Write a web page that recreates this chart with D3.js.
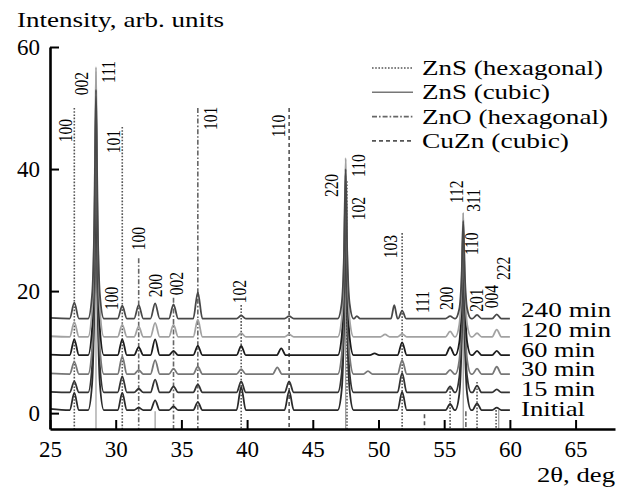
<!DOCTYPE html>
<html>
<head>
<meta charset="utf-8">
<script src="https://cdn.jsdelivr.net/npm/d3@7"></script>
<style>
  body { margin: 0; background: #fff; }
  svg { display: block; }
  text { font-family: "Liberation Serif", "Times New Roman", serif; fill: #000; }
</style>
</head>
<body>
<svg id="chart" width="622" height="491"></svg>
<script>
// tick labels
const thetaTicks = [25, 30, 35, 40, 45, 50, 55, 60, 65];
const intensityTicks = [0, 20, 40, 60];

// scans, bottom to top, with their vertical offsets
const scanLabels = ["Initial", "15 min", "30 min", "60 min", "120 min", "240 min"];
const scanOffsets = [0.5, 3.4, 6.4, 9.5, 12.5, 15.5];

// [2theta, intensity above the scan's own baseline]
const scanInitial = [
  [25, 0.2], [26.5, 0], [26.85, 2.8], [27.2, 0],
  [27.9, 0], [28.2, 4.2], [28.38, 18.7], [28.5, 41.5], [28.62, 18.7], [28.8, 4.2], [29.1, 0],
  [30.15, 0], [30.5, 2.8], [30.85, 0],
  [31.4, 0], [31.75, 0.4], [32.1, 0],
  [32.65, 0], [33, 1.6], [33.35, 0],
  [34.05, 0], [34.4, 0.6], [34.75, 0],
  [35.9, 0], [36.25, 1.3], [36.6, 0],
  [39.2, 0], [39.55, 3.8], [39.9, 0],
  [42.85, 0], [43.2, 3.2], [43.55, 0],
  [46.9, 0], [47.2, 3.3], [47.38, 14.6], [47.5, 32.5], [47.62, 14.6], [47.8, 3.3], [48.1, 0],
  [51.45, 0], [51.8, 3.0], [52.15, 0],
  [55.1, 0], [55.45, 1.0], [55.8, 0],
  [55.85, 0], [56.15, 2.6], [56.33, 11.5], [56.45, 25.5], [56.57, 11.5], [56.75, 2.6], [57.05, 0],
  [57.15, 0], [57.5, 1.1], [57.85, 0],
  [58.65, 0], [59, 0.4], [59.35, 0], [60, 0]
];
const scan15 = [
  [25, 0.1], [26.5, 0], [26.85, 1.8], [27.2, 0],
  [27.9, 0], [28.2, 4.2], [28.38, 18.7], [28.5, 41.6], [28.62, 18.7], [28.8, 4.2], [29.1, 0],
  [30.15, 0], [30.5, 2.6], [30.85, 0],
  [31.4, 0], [31.75, 0.6], [32.1, 0],
  [32.65, 0], [33, 2.1], [33.35, 0],
  [34.05, 0], [34.4, 1.0], [34.75, 0],
  [35.9, 0], [36.25, 1.3], [36.6, 0],
  [39.2, 0], [39.55, 1.8], [39.9, 0],
  [42.85, 0], [43.2, 1.8], [43.55, 0],
  [46.9, 0], [47.2, 3.2], [47.38, 14.2], [47.5, 31.6], [47.62, 14.2], [47.8, 3.2], [48.1, 0],
  [51.45, 0], [51.8, 3.2], [52.15, 0],
  [55.1, 0], [55.45, 1.0], [55.8, 0],
  [55.85, 0], [56.15, 2.5], [56.33, 11.1], [56.45, 24.6], [56.57, 11.1], [56.75, 2.5], [57.05, 0],
  [57.15, 0], [57.5, 1.1], [57.85, 0],
  [58.65, 0], [59, 0.5], [59.35, 0], [60, 0]
];
const scan30 = [
  [25, 0.1], [26.5, 0], [26.85, 2.0], [27.2, 0],
  [27.9, 0], [28.2, 4.1], [28.38, 18.3], [28.5, 40.6], [28.62, 18.3], [28.8, 4.1], [29.1, 0],
  [30.15, 0], [30.5, 2.9], [30.85, 0],
  [31.4, 0], [31.75, 0.7], [32.1, 0],
  [32.65, 0], [33, 2.3], [33.35, 0],
  [34.05, 0], [34.4, 0.9], [34.75, 0],
  [35.9, 0], [36.25, 1.2], [36.6, 0],
  [39.2, 0], [39.55, 0.8], [39.9, 0],
  [41.95, 0], [42.3, 1.1], [42.65, 0],
  [46.9, 0], [47.2, 3.1], [47.38, 13.8], [47.5, 30.6], [47.62, 13.8], [47.8, 3.1], [48.1, 0],
  [48.85, 0], [49.2, 0.5], [49.55, 0],
  [51.45, 0], [51.8, 2.3], [52.15, 0],
  [55.1, 0], [55.45, 0.7], [55.8, 0],
  [55.85, 0], [56.15, 2.3], [56.33, 10.2], [56.45, 22.6], [56.57, 10.2], [56.75, 2.3], [57.05, 0],
  [57.15, 0], [57.5, 0.9], [57.85, 0],
  [58.65, 0], [59, 1.2], [59.35, 0], [60, 0]
];
const scan60 = [
  [25, 0.1], [26.5, 0], [26.85, 2.6], [27.2, 0],
  [27.9, 0], [28.2, 4.2], [28.38, 18.7], [28.5, 41.5], [28.62, 18.7], [28.8, 4.2], [29.1, 0],
  [30.15, 0], [30.5, 2.6], [30.85, 0],
  [31.4, 0], [31.75, 1.3], [32.1, 0],
  [32.65, 0], [33, 2.6], [33.35, 0],
  [34.05, 0], [34.4, 0.7], [34.75, 0],
  [35.9, 0], [36.25, 1.5], [36.6, 0],
  [39.2, 0], [39.55, 1.5], [39.9, 0],
  [42.25, 0], [42.6, 1.1], [42.95, 0],
  [46.9, 0], [47.2, 3.0], [47.38, 13.3], [47.5, 29.5], [47.62, 13.3], [47.8, 3.0], [48.1, 0],
  [49.35, 0], [49.7, 0.3], [50.05, 0],
  [51.45, 0], [51.8, 2.1], [52.15, 0],
  [55.1, 0], [55.45, 1.3], [55.8, 0],
  [55.85, 0], [56.15, 2.1], [56.33, 9.5], [56.45, 21.0], [56.57, 9.5], [56.75, 2.1], [57.05, 0],
  [57.15, 0], [57.5, 0.7], [57.85, 0],
  [58.65, 0], [59, 0.7], [59.35, 0], [60, 0]
];
const scan120 = [
  [25, 0.1], [26.5, 0], [26.85, 2.4], [27.2, 0],
  [27.9, 0], [28.2, 4.4], [28.38, 19.9], [28.5, 44.2], [28.62, 19.9], [28.8, 4.4], [29.1, 0],
  [30.15, 0], [30.5, 2.0], [30.85, 0],
  [31.4, 0], [31.75, 1.7], [32.1, 0],
  [32.65, 0], [33, 2.3], [33.35, 0],
  [34.05, 0], [34.4, 2.0], [34.75, 0],
  [35.9, 0], [36.25, 2.8], [36.6, 0],
  [39.2, 0], [39.55, 0.6], [39.9, 0],
  [42.85, 0], [43.2, 0.4], [43.55, 0],
  [46.9, 0], [47.2, 2.9], [47.38, 13.2], [47.5, 29.3], [47.62, 13.2], [47.8, 2.9], [48.1, 0],
  [50.15, 0], [50.5, 0.4], [50.85, 0],
  [51.45, 0], [51.8, 0.5], [52.15, 0],
  [55.1, 0], [55.45, 0.9], [55.8, 0],
  [55.85, 0], [56.15, 2.0], [56.33, 9.1], [56.45, 20.3], [56.57, 9.1], [56.75, 2.0], [57.05, 0],
  [57.15, 0], [57.5, 0.6], [57.85, 0],
  [58.65, 0], [59, 1.2], [59.35, 0], [60, 0]
];
const scan240 = [
  [25, 0.1], [26.5, 0], [26.85, 2.6], [27.2, 0],
  [27.9, 0], [28.2, 3.8], [28.38, 16.9], [28.5, 37.5], [28.62, 16.9], [28.8, 3.8], [29.1, 0],
  [30.15, 0], [30.5, 2.1], [30.85, 0],
  [31.4, 0], [31.75, 2.2], [32.1, 0],
  [32.65, 0], [33, 2.5], [33.35, 0],
  [34.05, 0], [34.4, 2.3], [34.75, 0],
  [35.9, 0], [36.25, 4.3], [36.6, 0],
  [39.2, 0], [39.55, 0.5], [39.9, 0],
  [42.85, 0], [43.2, 0.4], [43.55, 0],
  [46.9, 0], [47.2, 2.5], [47.38, 11.0], [47.5, 24.5], [47.62, 11.0], [47.8, 2.5], [48.1, 0],
  [48.15, 0], [48.35, 0.4], [48.6, 0],
  [50.95, 0], [51.2, 2.2], [51.45, 0],
  [51.5, 0], [51.8, 1.3], [52.1, 0],
  [55.1, 0], [55.45, 0.4], [55.8, 0],
  [55.85, 0], [56.15, 1.6], [56.33, 7.2], [56.45, 16.0], [56.57, 7.2], [56.75, 1.6], [57.05, 0],
  [57.15, 0], [57.5, 0.6], [57.85, 0],
  [58.65, 0], [59, 0.7], [59.35, 0], [60, 0]
];
const scans = [scanInitial, scan15, scan30, scan60, scan120, scan240];

// phases and their reference lines: [2theta, phase index, top of line]
const phaseNames = ["ZnS (hexagonal)", "ZnS (cubic)", "ZnO (hexagonal)", "CuZn (cubic)"];
const refLines = [
  [26.85, 0, 50.0], [30.5, 0, 46.9], [39.55, 0, 17.7], [47.6, 0, 38.0],
  [51.8, 0, 29.5], [55.45, 0, 4.1], [57.5, 0, 5.1], [58.95, 0, 0.5],
  [28.5, 1, 56.0], [33.0, 1, 0.3], [47.5, 1, 41.5], [56.45, 1, 32.8], [59.15, 1, 0.5],
  [31.75, 2, 25.4], [34.4, 2, 18.9], [36.25, 2, 50.0], [56.65, 2, 0.3],
  [43.2, 3, 50.0], [53.5, 3, -0.2]
];

// Miller indices: [text, 2theta of label, level of label's lower end]
const hklLabels = [
  ["100", 26.2, 44.4], ["002", 27.42, 52.1], ["111", 29.47, 54.1],
  ["101", 29.86, 42.6], ["101", 37.24, 46.4], ["110", 42.41, 45.2],
  ["220", 46.45, 35.4], ["110", 48.5, 38.7], ["102", 48.5, 31.6],
  ["103", 50.94, 25.4], ["111", 53.37, 16.4], ["200", 55.2, 16.9],
  ["112", 55.96, 34.4], ["311", 57.25, 33.0], ["110", 57.1, 25.9],
  ["222", 59.54, 21.8], ["201", 57.48, 16.6], ["004", 58.62, 17.2],
  ["100", 29.7, 16.9], ["100", 31.76, 26.7], ["200", 33.05, 19.0],
  ["002", 34.65, 19.3], ["102", 39.44, 18.0]
];

const svg = d3.select("#chart");
const stretch = 1.18; // the printed lettering is wider than Times

const x = d3.scaleLinear().domain([25, 68]).range([50, 615]);
const y = d3.scaleLinear().domain([-2.6, 60]).range([429, 47]);

const phaseDash = ["1.6,1.6", null, "5,2,1.6,2", "4,3"];
const phaseColor = ["#555", "#9a9a9a", "#666", "#555"];
const scanColors = ["#2a2a2a", "#333", "#777", "#1c1c1c", "#a2a2a2", "#484848"];
// printed widths of the horizontal texts, px
const scanLabelWidths = [64, 74, 74, 74, 90, 90];
const legendTextWidths = [181, 128, 186, 147];

// reference lines
svg.append("g")
  .selectAll("line")
  .data(refLines)
  .enter()
  .append("line")
  .attr("x1", d => x(d[0]))
  .attr("x2", d => x(d[0]))
  .attr("y1", d => y(d[2]))
  .attr("y2", y(-2.6))
  .attr("stroke", d => phaseColor[d[1]])
  .attr("stroke-width", d => d[1] === 1 ? 1.2 : 1.6)
  .attr("stroke-dasharray", d => phaseDash[d[1]]);

// scans
const line = d3.line()
  .x(d => x(d[0]))
  .y(d => y(d[1]))
  .curve(d3.curveMonotoneX);

svg.append("g")
  .selectAll("path")
  .data(scans)
  .enter()
  .append("path")
  .attr("d", (d, i) => line(d.map(p => [p[0], p[1] + scanOffsets[i]])))
  .attr("fill", "none")
  .attr("stroke", (d, i) => scanColors[i])
  .attr("stroke-width", 1.8)
  .attr("stroke-linejoin", "round");

// axes
const xAxis = svg.append("g")
  .attr("transform", "translate(0,429)")
  .call(d3.axisBottom(x).tickValues(thetaTicks).tickSize(-9).tickSizeOuter(0).tickPadding(12));
const yAxis = svg.append("g")
  .attr("transform", "translate(50,0)")
  .call(d3.axisLeft(y).tickValues(intensityTicks).tickSize(-9).tickSizeOuter(0).tickPadding(10));

[xAxis, yAxis].forEach(g => {
  g.attr("font-family", null).attr("font-size", null);
  g.select(".domain").attr("stroke", "#000").attr("stroke-width", 2.6);
  g.selectAll(".tick line").attr("stroke", "#000").attr("stroke-width", 2);
  g.selectAll(".tick text").style("font-size", "23px");
});

// peak indices, written upwards
svg.append("g")
  .selectAll("text")
  .data(hklLabels)
  .enter()
  .append("text")
  .attr("transform", d => `translate(${x(d[1]) + 6.2},${y(d[2])}) scale(${stretch},1) rotate(-90)`)
  .style("font-size", "15.5px")
  .text(d => d[0]);

// scan names on the right
svg.append("g")
  .selectAll("text")
  .data(scanLabels)
  .enter()
  .append("text")
  .attr("x", 521)
  .attr("y", (d, i) => 416 - i * 19.8)
  .attr("textLength", (d, i) => scanLabelWidths[i])
  .attr("lengthAdjust", "spacingAndGlyphs")
  .style("font-size", "22px")
  .text(d => d);

// legend
const legend = svg.append("g").attr("transform", "translate(372,68)");
const rows = legend.selectAll("g")
  .data(phaseNames)
  .enter()
  .append("g")
  .attr("transform", (d, i) => `translate(0,${i * 24.3})`);
rows.append("line")
  .attr("x1", 0)
  .attr("x2", 41)
  .attr("stroke", (d, i) => i === 1 ? "#777" : phaseColor[i])
  .attr("stroke-width", 1.6)
  .attr("stroke-dasharray", (d, i) => phaseDash[i]);
rows.append("text")
  .attr("x", 50)
  .attr("y", 7)
  .attr("textLength", (d, i) => legendTextWidths[i])
  .attr("lengthAdjust", "spacingAndGlyphs")
  .style("font-size", "22px")
  .text(d => d);

// axis titles
svg.append("text")
  .attr("x", 17)
  .attr("y", 27)
  .attr("textLength", 207)
  .attr("lengthAdjust", "spacingAndGlyphs")
  .style("font-size", "22px")
  .text("Intensity, arb. units");
svg.append("text")
  .attr("x", 537)
  .attr("y", 482)
  .attr("textLength", 78)
  .attr("lengthAdjust", "spacingAndGlyphs")
  .style("font-size", "22px")
  .text("2θ, deg");
</script>
</body>
</html>
